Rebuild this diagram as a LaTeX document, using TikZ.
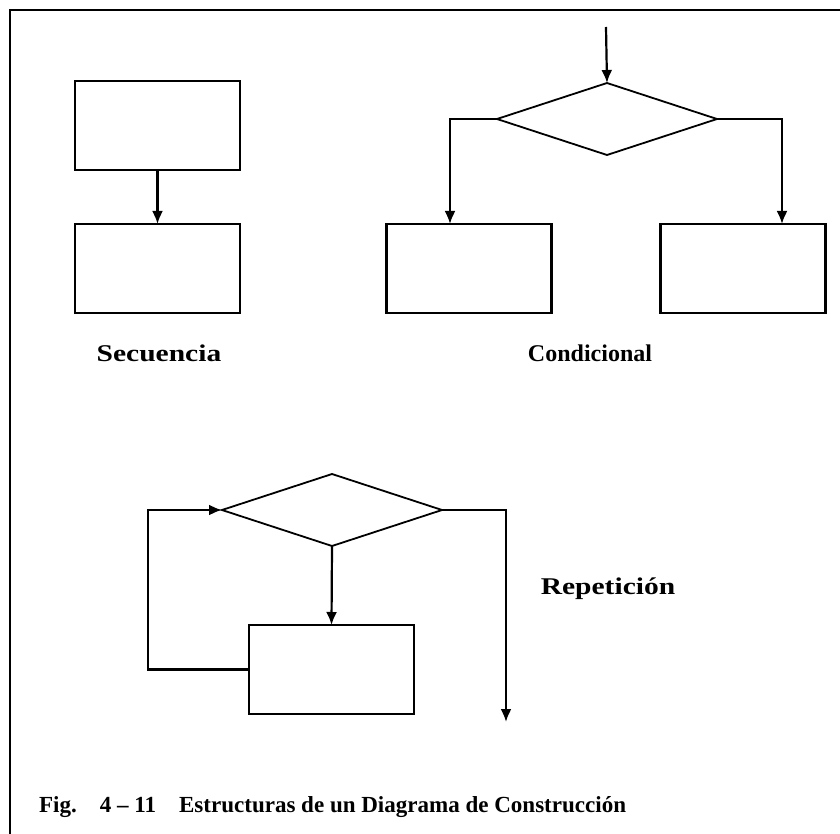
\documentclass[tikz,border=0pt]{standalone}
\usepackage{fontspec}
\setmainfont{Liberation Serif}
\usetikzlibrary{shapes.geometric,arrows.meta}
\begin{document}
\begin{tikzpicture}[x=1pt,y=-1pt,
  line width=2.2pt,
  proc/.style={draw,rectangle,minimum width=165pt,minimum height=89pt,inner sep=0pt,outer sep=0pt},
  cond/.style={draw,diamond,aspect=3,minimum width=220pt,minimum height=72pt,inner sep=0pt,outer sep=0pt,line width=1.8pt},
  flow/.style={-{Latex[length=13pt,width=11pt]}},
  lbl/.style={inner sep=0pt,font=\fontsize{24}{27}\selectfont\bfseries},
]
\useasboundingbox (0,0) rectangle (840,834);
% frame
\draw (840,10) -- (10,10) -- (10,834);

% --- Secuencia
\node[proc] (s1) at (157.5,125.5) {};
\node[proc] (s2) at (157.5,268.5) {};
\draw[flow] (s1) -- (s2);
\node[lbl] (ls) at (159,353) {\scalebox{1.23}[1]{Secuencia}};

% --- Condicional
\coordinate (cin) at (606,27);
\node[cond] (d1) at (607,119) {};
\node[proc] (c1) at (469,268.5) {};
\node[proc] (c2) at (743,268.5) {};
\draw[flow] (cin) -- (d1.north);
\draw[flow] (d1.west) -| ([xshift=-19pt]c1.north);
\draw[flow] (d1.east) -| ([xshift=39pt]c2.north);
\node[lbl] (lc) at (590,353) {\scalebox{1.0}[1]{Condicional}};

% --- Repetición
\node[cond] (d2) at (332,510) {};
\node[proc] (r1) at (331.5,669.5) {};
\coordinate (back) at (148,590);
\coordinate (out) at (506,722);
\draw[flow] (d2.south) -- (r1.north);
\draw[flow] (r1.west) -| (back) |- (d2.west);
\draw[flow] (d2.east) -| (out);
\node[lbl] (lr) at (608,589) {\scalebox{1.23}[1]{Repetición}};

% caption
\node[anchor=base west,inner sep=0pt] (cap) at (38,812)
  {\resizebox{587pt}{!}{\bfseries Fig.\quad 4 -- 11\quad Estructuras de un Diagrama de Construcción}};
\end{tikzpicture}
\end{document}
